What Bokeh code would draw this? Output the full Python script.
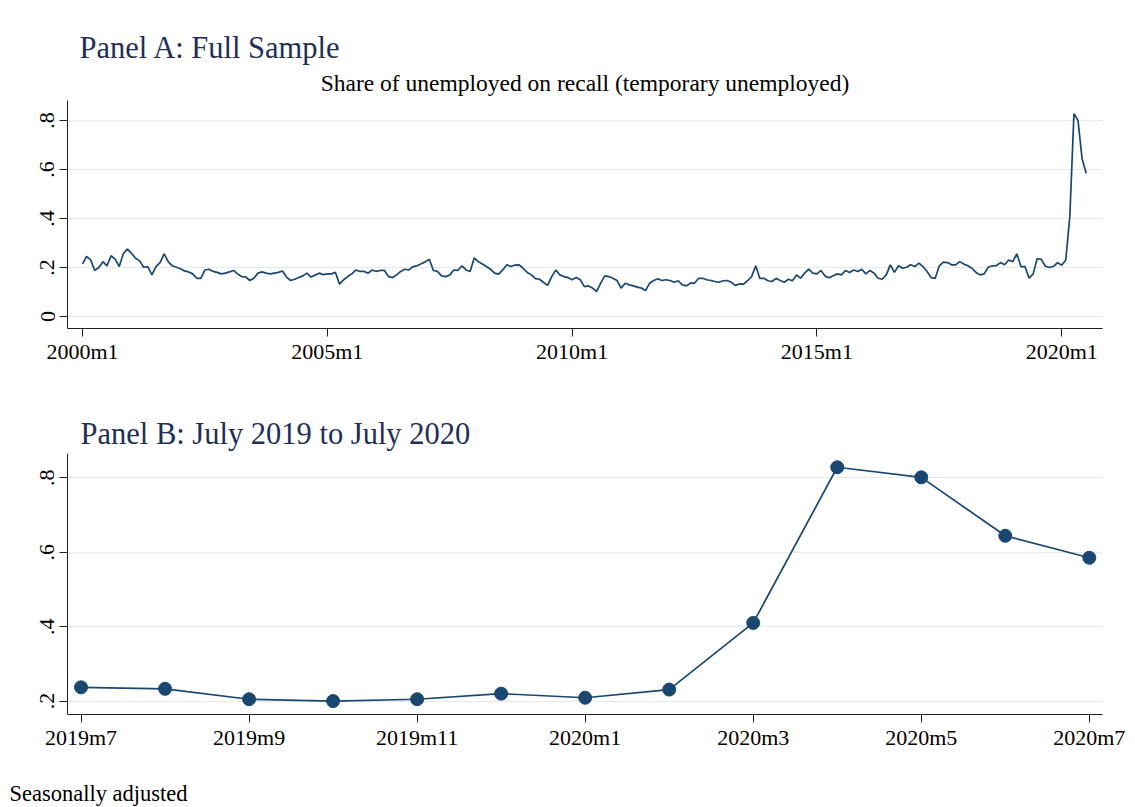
from bokeh.plotting import figure
from bokeh.layouts import column
from bokeh.models import Range1d, FixedTicker, Title
from bokeh.core.properties import value
from bokeh.embed import file_html
from bokeh.resources import INLINE

# ---- data: share of unemployed on recall, monthly, 2000m1 .. 2020m7 ----
rate_2000 = [0.215, 0.245, 0.231, 0.188, 0.200, 0.224, 0.207, 0.248, 0.234, 0.204, 0.256, 0.275]
rate_2001 = [0.258, 0.238, 0.227, 0.201, 0.204, 0.170, 0.204, 0.220, 0.256, 0.224, 0.207, 0.201]
rate_2002 = [0.195, 0.186, 0.182, 0.174, 0.156, 0.156, 0.190, 0.193, 0.184, 0.180, 0.174, 0.177]
rate_2003 = [0.182, 0.188, 0.174, 0.163, 0.162, 0.147, 0.156, 0.177, 0.182, 0.177, 0.174, 0.177]
rate_2004 = [0.180, 0.186, 0.161, 0.147, 0.152, 0.159, 0.166, 0.177, 0.161, 0.169, 0.177, 0.171]
rate_2005 = [0.174, 0.174, 0.180, 0.132, 0.150, 0.163, 0.174, 0.190, 0.184, 0.184, 0.177, 0.190]
rate_2006 = [0.184, 0.188, 0.188, 0.163, 0.159, 0.170, 0.184, 0.193, 0.190, 0.204, 0.207, 0.215]
rate_2007 = [0.223, 0.234, 0.188, 0.184, 0.166, 0.163, 0.169, 0.190, 0.188, 0.207, 0.190, 0.184]
rate_2008 = [0.239, 0.224, 0.214, 0.204, 0.193, 0.177, 0.173, 0.190, 0.211, 0.204, 0.210, 0.211]
rate_2009 = [0.197, 0.180, 0.170, 0.155, 0.152, 0.139, 0.127, 0.163, 0.190, 0.170, 0.163, 0.159]
rate_2010 = [0.150, 0.159, 0.150, 0.122, 0.125, 0.116, 0.102, 0.136, 0.166, 0.163, 0.156, 0.147]
rate_2011 = [0.116, 0.136, 0.129, 0.125, 0.120, 0.116, 0.106, 0.136, 0.147, 0.154, 0.147, 0.150]
rate_2012 = [0.147, 0.140, 0.146, 0.129, 0.125, 0.136, 0.136, 0.156, 0.156, 0.150, 0.147, 0.143]
rate_2013 = [0.140, 0.146, 0.147, 0.140, 0.127, 0.133, 0.132, 0.146, 0.163, 0.207, 0.156, 0.156]
rate_2014 = [0.146, 0.143, 0.156, 0.147, 0.140, 0.152, 0.146, 0.170, 0.156, 0.177, 0.193, 0.177]
rate_2015 = [0.174, 0.188, 0.165, 0.158, 0.166, 0.174, 0.170, 0.188, 0.180, 0.190, 0.184, 0.193]
rate_2016 = [0.174, 0.188, 0.177, 0.156, 0.152, 0.170, 0.211, 0.180, 0.207, 0.197, 0.201, 0.211]
rate_2017 = [0.204, 0.218, 0.204, 0.184, 0.159, 0.156, 0.207, 0.222, 0.220, 0.211, 0.211, 0.224]
rate_2018 = [0.214, 0.207, 0.197, 0.180, 0.170, 0.174, 0.201, 0.207, 0.208, 0.220, 0.211, 0.231]
rate_2019 = [0.224, 0.256, 0.204, 0.204, 0.156, 0.174, 0.237, 0.233, 0.205, 0.200, 0.205, 0.220]
rate_2020 = [0.209, 0.231, 0.410, 0.828, 0.801, 0.644, 0.585]

years = [rate_2000, rate_2001, rate_2002, rate_2003, rate_2004, rate_2005, rate_2006,
         rate_2007, rate_2008, rate_2009, rate_2010, rate_2011, rate_2012, rate_2013,
         rate_2014, rate_2015, rate_2016, rate_2017, rate_2018, rate_2019, rate_2020]
rate_full = [v for yr in years for v in yr]
month_idx = list(range(len(rate_full)))          # 0 = 2000m1

panel_a_tick_pos = [0, 60, 120, 180, 240]
panel_a_tick_lab = ["2000m1", "2005m1", "2010m1", "2015m1", "2020m1"]

# Panel B: July 2019 .. July 2020 (last 13 months)
rate_b = rate_full[-13:]
month_b = list(range(13))                        # 0 = 2019m7
panel_b_tick_pos = [0, 2, 4, 6, 8, 10, 12]
panel_b_tick_lab = ["2019m7", "2019m9", "2019m11", "2020m1", "2020m3", "2020m5", "2020m7"]

y_a_ticks = [0, 0.2, 0.4, 0.6, 0.8]
y_a_labels = ["0", ".2", ".4", ".6", ".8"]
y_b_ticks = [0.2, 0.4, 0.6, 0.8]
y_b_labels = [".2", ".4", ".6", ".8"]

title_a = "Panel A: Full Sample"
subtitle_a = "Share of unemployed on recall (temporary unemployed)"
title_b = "Panel B: July 2019 to July 2020"
note = "Seasonally adjusted"

# ---- style ----
W = 1127
FL, FR = 67, 1102            # frame left / right edge in page pixels
NAVY = "#1a476f"
TITLE_COL = "#1f2f57"
SERIF = "Liberation Serif"
GRID = "#e7eaec"
AXIS = "#222222"


def style(p, xt, xl, yt, yl):
    p.outline_line_color = None
    p.background_fill_color = "white"
    p.border_fill_color = "white"
    p.xgrid.visible = False
    p.ygrid.ticker = FixedTicker(ticks=yt)
    p.ygrid.grid_line_color = GRID
    p.ygrid.grid_line_width = 1
    p.xaxis.ticker = FixedTicker(ticks=xt)
    p.yaxis.ticker = FixedTicker(ticks=yt)
    p.xaxis.major_label_overrides = {k: v for k, v in zip(xt, xl)}
    p.yaxis.major_label_overrides = {k: v for k, v in zip(yt, yl)}
    for ax in (p.xaxis, p.yaxis):
        ax.axis_line_color = AXIS
        ax.axis_line_width = 1
        ax.major_tick_line_color = AXIS
        ax.major_tick_out = 8
        ax.major_tick_in = 0
        ax.minor_tick_line_color = None
        ax.major_label_text_font = SERIF
        ax.major_label_text_font_size = "22px"
        ax.major_label_text_color = "black"
    p.xaxis.major_label_standoff = 2
    p.yaxis.major_label_standoff = 5
    p.yaxis.major_label_orientation = "vertical"


def text_strip(height):
    """A frameless strip; x data = page pixels, y data = pixels from its top."""
    s = figure(width=W, height=height, output_backend="svg", toolbar_location=None,
               x_range=Range1d(FL, FR), y_range=Range1d(height, 0),
               x_axis_type=None, y_axis_type=None,
               min_border_left=FL, min_border_right=W - FR, min_border_top=0, min_border_bottom=0)
    s.grid.visible = False
    s.outline_line_color = None
    s.background_fill_color = "white"
    s.border_fill_color = "white"
    return s


# ---- header for Panel A ----
hdr_a = text_strip(100)
hdr_a.text(x=[79], y=[47], text=[title_a], text_font=value(SERIF), text_font_size=value("30.5px"),
           text_color=TITLE_COL, text_baseline="middle", text_align="left")
hdr_a.text(x=[584.5], y=[82], text=[subtitle_a], text_font=value(SERIF), text_font_size=value("23.5px"),
           text_color="black", text_baseline="middle", text_align="center")

# ---- Panel A ----
pa = figure(width=W, height=295, output_backend="svg", toolbar_location=None,
            x_range=Range1d(-3.68, 250.0), y_range=Range1d(-0.049, 0.882),
            min_border_left=FL, min_border_right=W - FR, min_border_top=0, min_border_bottom=67)
style(pa, panel_a_tick_pos, panel_a_tick_lab, y_a_ticks, y_a_labels)
pa.line(month_idx, rate_full, line_color=NAVY, line_width=1.7)

# ---- header for Panel B ----
hdr_b = text_strip(58)
hdr_b.text(x=[80], y=[38], text=[title_b], text_font=value(SERIF), text_font_size=value("30.5px"),
           text_color=TITLE_COL, text_baseline="middle", text_align="left")

# ---- Panel B ----
pb = figure(width=W, height=354, output_backend="svg", toolbar_location=None,
            x_range=Range1d(-0.161, 12.157), y_range=Range1d(0.164, 0.865),
            min_border_left=FL, min_border_right=W - FR, min_border_top=0, min_border_bottom=93)
style(pb, panel_b_tick_pos, panel_b_tick_lab, y_b_ticks, y_b_labels)
pb.line(month_b, rate_b, line_color=NAVY, line_width=1.7)
pb.scatter(month_b, rate_b, size=13, fill_color=NAVY, line_color=NAVY)
# blank spacer panel under the axis, then the footnote at the bottom edge
pb.add_layout(Title(text=" ", align="left", standoff=12, text_font=SERIF,
                    text_font_size="10px", text_font_style="normal"), "below")
pb.add_layout(Title(text=note, align="left", offset=9 - FL, standoff=2,
                    text_font=SERIF, text_font_size="22.5px", text_font_style="normal",
                    text_color="black"), "below")

layout = column(hdr_a, pa, hdr_b, pb, spacing=0)
open("out.html", "w").write(file_html(layout, INLINE))
